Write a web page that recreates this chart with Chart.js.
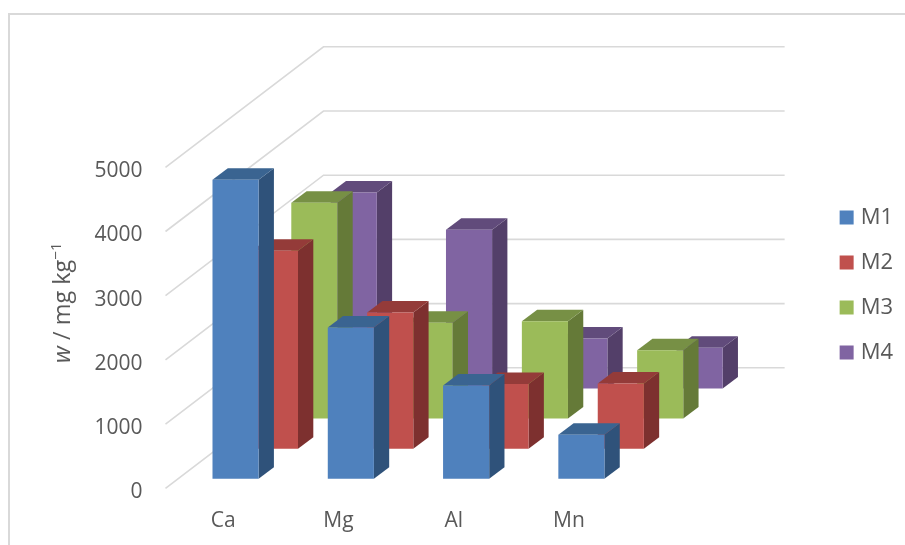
<!DOCTYPE html>
<html>
<head>
<meta charset="utf-8">
<title>w / mg kg-1</title>
<script src="https://cdn.jsdelivr.net/npm/chart.js@4/dist/chart.umd.min.js"></script>
<style>
  html, body { margin: 0; background: #fff; overflow: hidden; }
  #frame { position: absolute; left: 8px; top: 13px; right: 0; bottom: 0; border-top: 2px solid #d9d9d9; border-left: 2px solid #d9d9d9; }
  #wrap { position: absolute; left: 0; top: 0; width: 905px; height: 545px; }
</style>
</head>
<body>
<div id="frame"></div>
<div id="wrap"><canvas id="barChart"></canvas></div>
<script>
var categories = ["Ca", "Mg", "Al", "Mn"];
var m1 = [4657, 2357, 1453, 685];
var m2 = [3084, 2123, 1008, 1017];
var m3 = [3364, 1495, 1517, 1065];
var m4 = [3053, 2472, 779, 634];

var frontColors = ["#4f81bd", "#c0504d", "#9bbb59", "#8064a2"];
var sideColors = ["#2f527a", "#7d302f", "#657a38", "#533f69"];
var topColors = ["#3a6491", "#943b39", "#779045", "#614b7b"];

var textColor = "#595959";
var fontFamily = "'Open Sans', sans-serif";

// depth of the whole floor, and of a single box
var wallDx = 158, wallDy = -120.5;
var boxDx = 15.3, boxDy = -11.5;
var rowDx = 39.4, rowDy = -30.1;
var rowStart = 0.315;

function poly(ctx, color, pts) {
  ctx.fillStyle = color;
  ctx.beginPath();
  ctx.moveTo(pts[0], pts[1]);
  for (var i = 2; i < pts.length; i += 2) ctx.lineTo(pts[i], pts[i + 1]);
  ctx.closePath();
  ctx.fill();
}

var depthPlugin = {
  id: "depth",
  // side wall and back wall grid lines
  beforeDatasetsDraw: function (chart) {
    var ctx = chart.ctx;
    var y = chart.scales.y;
    var left = chart.chartArea.left;
    ctx.save();
    ctx.strokeStyle = "#d9d9d9";
    ctx.lineWidth = 1.6;
    y.ticks.forEach(function (t) {
      var py = y.getPixelForValue(t.value);
      ctx.beginPath();
      ctx.moveTo(left, py);
      ctx.lineTo(left + wallDx, py + wallDy);
      ctx.lineTo(left + wallDx + chart.chartArea.width, py + wallDy);
      ctx.stroke();
    });
    ctx.restore();
  },
  // bars keep their library positions, each row is pushed back along the floor
  beforeDatasetDraw: function (chart, args) {
    var ctx = chart.ctx;
    var i = args.index;
    var ox = (i + rowStart) * rowDx;
    var oy = (i + rowStart) * rowDy;
    chart.getDatasetMeta(i).data.forEach(function (bar) {
      var l = bar.x - bar.width / 2 + ox;
      var r = bar.x + bar.width / 2 + ox;
      var t = bar.y + oy;
      var b = bar.base + oy;
      poly(ctx, sideColors[i], [r, t, r + boxDx, t + boxDy, r + boxDx, b + boxDy, r, b]);
      poly(ctx, topColors[i], [l, t, l + boxDx, t + boxDy, r + boxDx, t + boxDy, r, t]);
      poly(ctx, frontColors[i], [l, t, r, t, r, b, l, b]);
    });
    return false;
  },
  // axis title has an italic symbol and a raised exponent
  afterDraw: function (chart) {
    var ctx = chart.ctx;
    ctx.save();
    ctx.translate(70, 363);
    ctx.rotate(-Math.PI / 2);
    ctx.fillStyle = textColor;
    ctx.textBaseline = "alphabetic";
    ctx.font = "italic 23.5px " + fontFamily;
    ctx.fillText("w", 0, 0);
    var x = ctx.measureText("w").width;
    ctx.font = "23.5px " + fontFamily;
    ctx.fillText(" / mg kg", x, 0);
    x += ctx.measureText(" / mg kg").width;
    ctx.font = "15px " + fontFamily;
    ctx.fillText("\u22121", x, -9);
    ctx.restore();
  }
};

function gapAxis(axis, position, size) {
  return {
    type: "linear",
    axis: axis,
    position: position,
    grid: { display: false },
    border: { display: false },
    ticks: { display: false },
    afterFit: function (scale) {
      if (axis === "x") scale.height = size;
      else scale.width = size;
    }
  };
}

var barCtx = document.getElementById("barChart").getContext("2d");
var barChart = new Chart(barCtx, {
  type: "bar",
  data: {
    labels: categories,
    datasets: [
      { label: "M1", data: m1, backgroundColor: frontColors[0] },
      { label: "M2", data: m2, backgroundColor: frontColors[1] },
      { label: "M3", data: m3, backgroundColor: frontColors[2] },
      { label: "M4", data: m4, backgroundColor: frontColors[3] }
    ]
  },
  options: {
    responsive: true,
    maintainAspectRatio: false,
    animation: false,
    grouped: false,
    barPercentage: 0.4,
    categoryPercentage: 1,
    layout: { padding: { top: 25, right: 2 } },
    plugins: {
      tooltip: { enabled: false },
      legend: {
        position: "right",
        labels: {
          usePointStyle: true,
          pointStyle: "rect",
          boxWidth: 6,
          boxHeight: 14,
          padding: 23,
          color: textColor,
          font: { family: fontFamily, size: 22 }
        }
      }
    },
    scales: {
      x: {
        grid: { display: false },
        border: { display: false },
        afterFit: function (scale) { scale.height = 56.7; },
        ticks: {
          color: textColor,
          padding: 12,
          maxRotation: 0,
          font: { family: fontFamily, size: 21 }
        }
      },
      y: {
        min: 0,
        max: 5000,
        grid: { display: false },
        border: { display: false },
        afterFit: function (scale) { scale.width = 165.5; },
        ticks: {
          stepSize: 1000,
          color: textColor,
          padding: 15,
          labelOffset: 4,
          font: { family: fontFamily, size: 21 },
          callback: function (value) { return String(value); }
        }
      },
      gapTop: gapAxis("x", "top", 142.3),
      gapRight: gapAxis("y", "right", 194)
    }
  },
  plugins: [depthPlugin]
});
</script>
</body>
</html>
